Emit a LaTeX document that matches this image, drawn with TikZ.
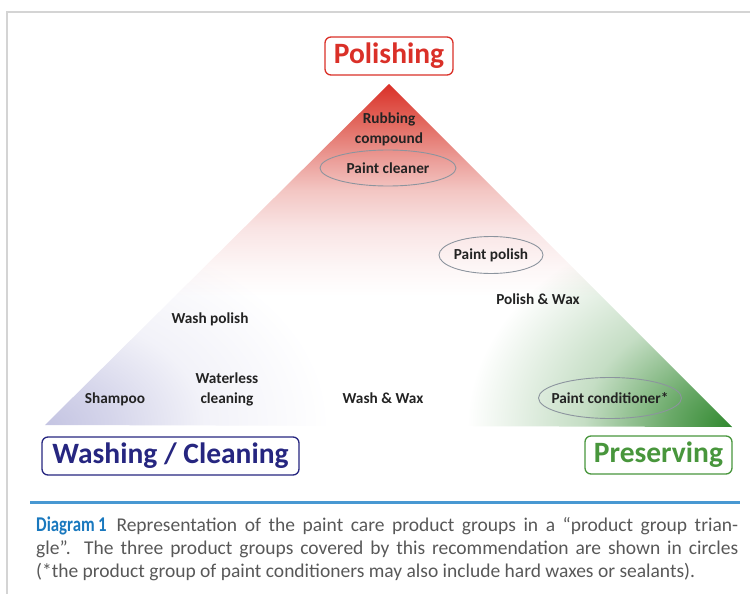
\documentclass[tikz,border=0pt]{standalone}
\usepackage{fontspec}
\setmainfont{Carlito}
\newfontfamily\headfont{Carlito}[FakeStretch=0.8]
\usetikzlibrary{shapes.geometric}

\definecolor{polred}{RGB}{218,48,40}
\definecolor{washblue}{RGB}{38,38,128}
\definecolor{preservegreen}{RGB}{72,150,60}
\definecolor{lavender}{RGB}{196,196,226}
\definecolor{leafgreen}{RGB}{48,136,46}
\definecolor{framegray}{RGB}{212,212,212}
\definecolor{rulecolor}{RGB}{72,152,210}
\definecolor{capgray}{RGB}{88,88,88}
\definecolor{headblue}{RGB}{25,120,190}
\definecolor{ovalgray}{RGB}{140,148,158}
\definecolor{labeltext}{RGB}{35,35,35}
\definecolor{redA}{RGB}{253,247,247}
\definecolor{redB}{RGB}{249,228,228}
\definecolor{redC}{RGB}{243,198,195}
\definecolor{redD}{RGB}{236,162,157}
\definecolor{redE}{RGB}{225,98,88}

% red glow from the apex, fading downwards
\pgfdeclareverticalshading{polishfade}{100bp}{color(0bp)=(white); color(44bp)=(white);
  color(48bp)=(redA); color(54bp)=(redB); color(59.5bp)=(redC); color(63.5bp)=(redD);
  color(70bp)=(redE); color(75bp)=(polred); color(100bp)=(polred)}
% corner glows
\pgfdeclareradialshading{washglow}{\pgfpoint{0bp}{0bp}}{color(0bp)=(lavender);
  color(6bp)=(lavender!70!white); color(14bp)=(lavender!22!white); color(25bp)=(white); color(50bp)=(white)}
\pgfdeclareradialshading{preserveglow}{\pgfpoint{0bp}{0bp}}{color(0bp)=(leafgreen);
  color(6bp)=(leafgreen!72!white); color(14bp)=(leafgreen!28!white); color(25bp)=(white); color(50bp)=(white)}

\begin{document}
\begin{tikzpicture}[x=1pt,y=-1pt,
  groupbox/.style={draw=#1, text=#1, fill=white, rounded corners=6pt, line width=1.3pt,
    minimum height=38pt, inner sep=0pt, font=\fontsize{29.5}{32}\selectfont\bfseries},
  item/.style={font=\fontsize{15.3}{20}\selectfont\bfseries, text=labeltext, align=center, inner sep=0pt},
  oval/.style={draw=ovalgray, line width=0.9pt}]
\useasboundingbox (0,0) rectangle (750,594);

% page frame
\draw[framegray, line width=2.5pt] (7,594) -- (7,12) -- (750,12);

% triangle corners
\coordinate (apex) at (389,84);
\coordinate (bl) at (45,425);
\coordinate (br) at (732,427);

\shade[shading=polishfade] (apex) -- (bl) -- (br) -- cycle;
\begin{scope}[blend mode=multiply]
  \clip (apex) -- (bl) -- (br) -- cycle;
  \shade[shading=washglow] (bl) ellipse [x radius=285, y radius=200];
  \shade[shading=preserveglow] (br) ellipse [x radius=265, y radius=210];
\end{scope}

% group labels
\node[groupbox=polred, minimum width=128pt] (polishing) at (389,56) {Polishing};
\node[groupbox=washblue, minimum width=257pt] (washing) at (170.5,456) {Washing / Cleaning};
\node[groupbox=preservegreen, minimum width=147pt] (preserving) at (658.5,455) {Preserving};

% products
\node[item] (rubbing) at (389,129) {Rubbing\\compound};
\node[item] (cleaner) at (388,168) {Paint cleaner};
\draw[oval] (cleaner.center) ellipse [x radius=68, y radius=18];
\node[item] (ppolish) at (491,255) {Paint polish};
\draw[oval] (ppolish.center) ellipse [x radius=52, y radius=18.5];
\node[item] (polwax) at (538,299) {Polish \& Wax};
\node[item] (washpol) at (210,319) {Wash polish};
\node[item] (shampoo) at (115,399) {Shampoo};
\node[item] (waterless) at (227,389) {Waterless\\cleaning};
\node[item] (washwax) at (383,398) {Wash \& Wax};
\node[item] (conditioner) at (610,398) {Paint conditioner*};
\draw[oval] (conditioner.center) ellipse [x radius=71.5, y radius=20.5];

% caption
\draw[rulecolor, line width=3pt] (30,502) -- (740,502);
\node[anchor=base west, text width=702pt, align=justify, inner sep=0pt, text=capgray,
  font=\fontsize{19.5}{23}\selectfont] (caption) at (36,531)
  {{\headfont\bfseries\fontsize{21}{23}\selectfont\color{headblue}Diagram\,1}\enspace
   Representation of the paint care product groups in a “product group trian-\linebreak
   gle”. The three product groups covered by this recommendation are shown in circles\linebreak
   (*the product group of paint conditioners may also include hard waxes or sealants).};
\end{tikzpicture}
\end{document}
